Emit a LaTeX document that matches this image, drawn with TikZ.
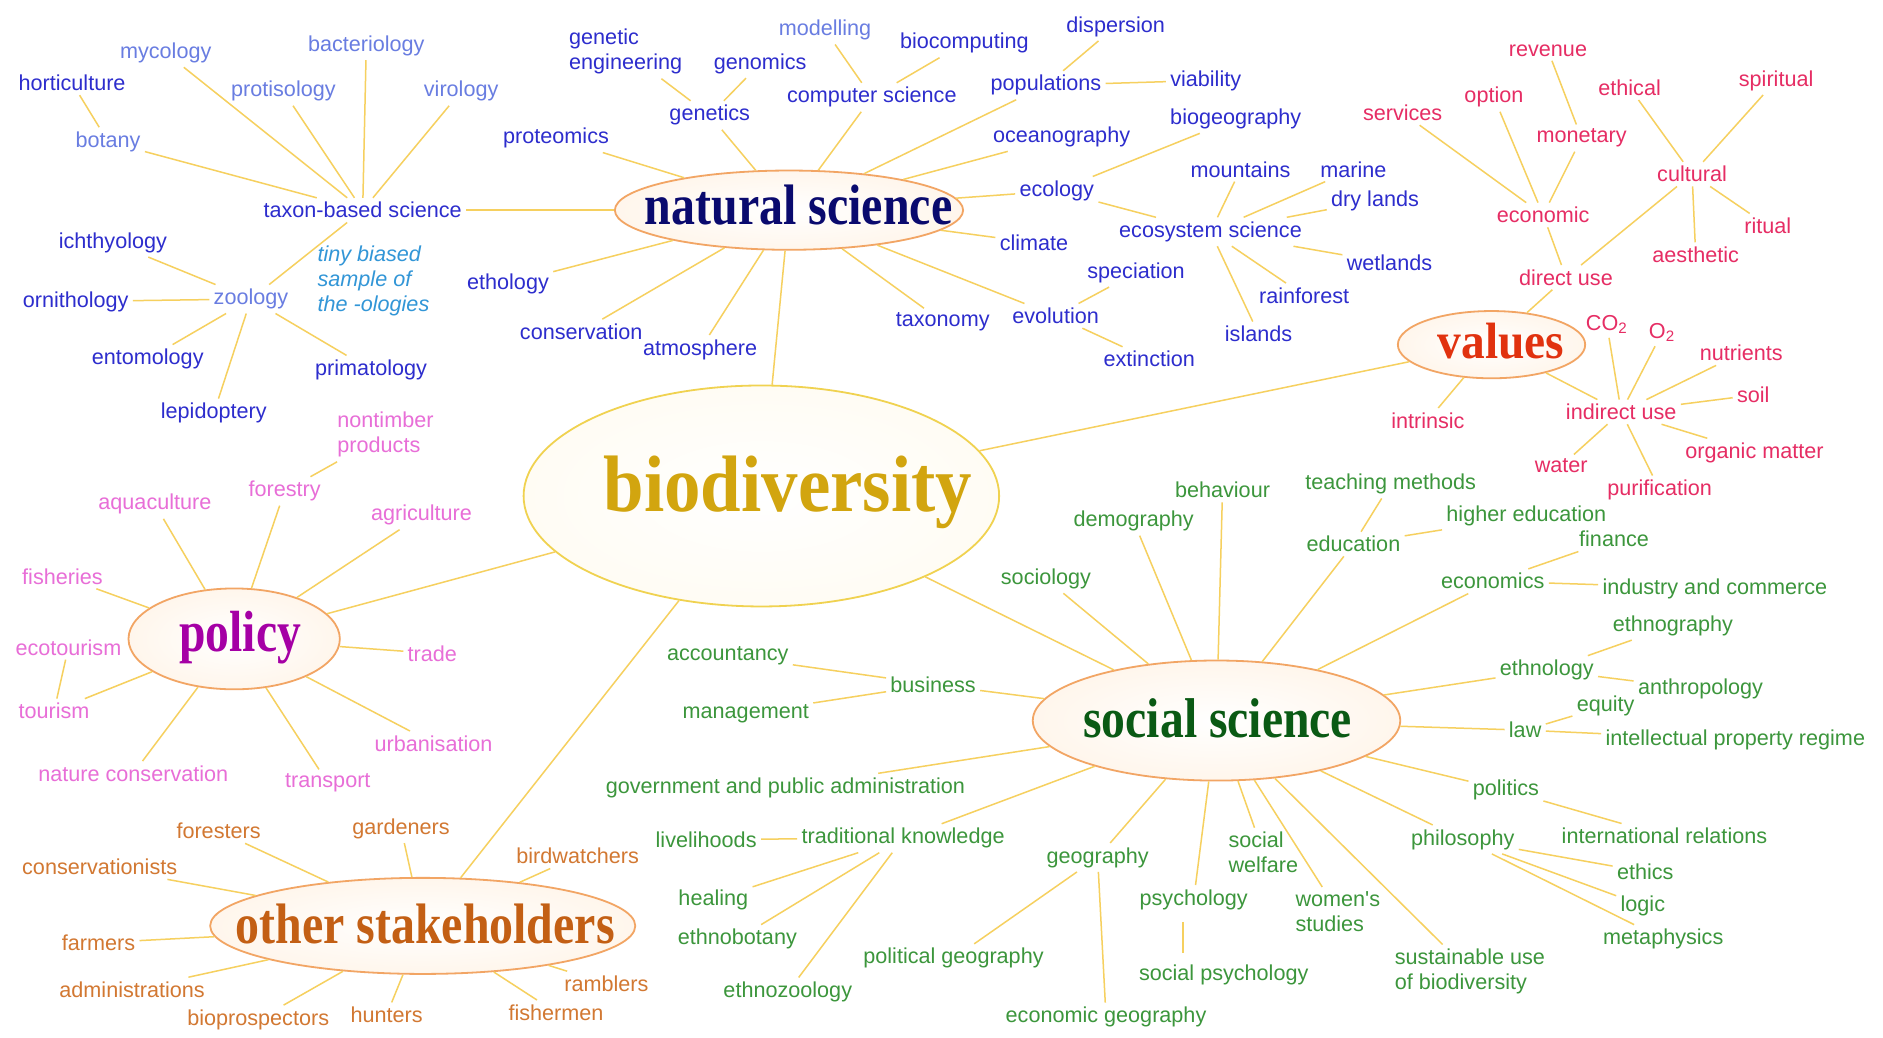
\documentclass[tikz,border=0pt]{standalone}
\usepackage{fontspec}
\usetikzlibrary{shapes.geometric}
\newfontfamily\labfont{Liberation Sans}
\newfontfamily\titfont{Liberation Serif}
\definecolor{nsdark}{RGB}{45,45,205}
\definecolor{nslight}{RGB}{105,125,225}
\definecolor{olog}{RGB}{50,150,215}
\definecolor{valc}{RGB}{230,45,100}
\definecolor{polc}{RGB}{232,110,215}
\definecolor{socc}{RGB}{60,150,60}
\definecolor{othc}{RGB}{210,120,50}
\definecolor{conc}{RGB}{246,208,95}
\definecolor{elline}{RGB}{242,165,100}
\definecolor{bioline}{RGB}{240,210,80}
\definecolor{ellfill}{RGB}{255,246,236}
\definecolor{biofill}{RGB}{255,252,244}
\definecolor{biotext}{RGB}{210,165,15}
\definecolor{nstext}{RGB}{10,10,110}
\definecolor{valtext}{RGB}{225,50,15}
\definecolor{poltext}{RGB}{165,0,165}
\definecolor{soctext}{RGB}{10,90,20}
\definecolor{othtext}{RGB}{195,95,20}
\newcommand{\ttl}[3]{{\titfont\bfseries\fontsize{#1}{#1}\selectfont\scalebox{#2}[1]{#3}}}
\begin{document}
\begin{tikzpicture}[x=0.6pt,y=-0.6pt,
  lab/.style={font={\labfont\fontsize{10.8}{12.6}\selectfont}, inner sep=2pt},
  ns/.style={lab, text=nsdark},
  nsl/.style={lab, text=nslight},
  val/.style={lab, text=valc},
  pol/.style={lab, text=polc},
  soc/.style={lab, text=socc},
  oth/.style={lab, text=othc},
  ell/.style={ellipse, draw=elline, line width=0.9pt, inner sep=0pt, inner color=white, outer color=ellfill},
  con/.style={draw=conc, line width=0.75pt}]
\fill[white] (0,0) rectangle (1568,864);
\useasboundingbox (0,0) rectangle (1568,864);

% hubs
\node[ell, draw=bioline, outer color=biofill, minimum width=237.6pt, minimum height=110.4pt] (bio) at (634,413) {};
\node[ell, minimum width=174pt, minimum height=39.6pt] (nat) at (657,175) {};
\node[ell, minimum width=93.6pt, minimum height=33.6pt] (val) at (1242,287) {};
\node[ell, minimum width=105.6pt, minimum height=50.4pt] (pol) at (195,532) {};
\node[ell, minimum width=183.6pt, minimum height=60pt] (soc) at (1013,600) {};
\node[ell, minimum width=212.4pt, minimum height=48pt] (oth) at (352,771) {};

% natural science
\node[ns] (horti) at (60,69) {horticulture};
\node[nsl] (myco) at (138,44) {mycology};
\node[nsl] (bact) at (305,38) {bacteriology};
\node[nsl] (prot) at (236,76) {protisology};
\node[nsl] (viro) at (384,76) {virology};
\node[nsl] (bota) at (90,118) {botany};
\node[ns] (taxon) at (302,175) {taxon-based science};
\node[ns] (ichth) at (94,202) {ichthyology};
\node[ns] (ornith) at (63,251) {ornithology};
\node[nsl] (zool) at (209,249) {zoology};
\node[ns] (entom) at (123,299) {entomology};
\node[ns] (lepid) at (178,344) {lepidoptery};
\node[ns] (primat) at (309,308) {primatology};
\node[lab, text=olog, align=left, font={\labfont\itshape\fontsize{10.8}{12.6}\selectfont}] (ologies) at (311,234) {tiny biased\\sample of\\the -ologies};
\node[ns] (proteo) at (463,115) {proteomics};
\node[ns, align=left] (geneng) at (521,43) {genetic\\engineering};
\node[ns] (genom) at (633,53) {genomics};
\node[nsl] (model) at (687,25) {modelling};
\node[ns] (biocomp) at (803,36) {biocomputing};
\node[ns] (disp) at (929,22) {dispersion};
\node[ns] (genet) at (591,96) {genetics};
\node[ns] (compsci) at (726,81) {computer science};
\node[ns] (popul) at (871,71) {populations};
\node[ns] (viab) at (1004,67) {viability};
\node[ns] (ocean) at (884,114) {oceanography};
\node[ns] (biogeo) at (1029,99) {biogeography};
\node[ns] (ecol) at (880,159) {ecology};
\node[ns] (mount) at (1033,141) {mountains};
\node[ns] (marine) at (1127,141) {marine};
\node[ns] (dry) at (1145,167) {dry lands};
\node[ns] (ecosys) at (1008,193) {ecosystem science};
\node[ns] (wet) at (1157,219) {wetlands};
\node[ns] (rain) at (1086,246) {rainforest};
\node[ns] (isl) at (1048,278) {islands};
\node[ns] (clim) at (861,202) {climate};
\node[ns] (spec) at (946,227) {speciation};
\node[ns] (evol) at (879,263) {evolution};
\node[ns] (extin) at (957,299) {extinction};
\node[ns] (taxo) at (785,268) {taxonomy};
\node[ns] (atmos) at (583,291) {atmosphere};
\node[ns] (conserv) at (484,276) {conservation};
\node[ns] (etho) at (423,236) {ethology};

% values
\node[val] (reven) at (1289,42) {revenue};
\node[val] (ethic) at (1357,73) {ethical};
\node[val] (spirit) at (1479,67) {spiritual};
\node[val] (option) at (1244,81) {option};
\node[val] (serv) at (1168,94) {services};
\node[val] (monet) at (1317,115) {monetary};
\node[val] (cult) at (1409,145) {cultural};
\node[val] (econ) at (1285,179) {economic};
\node[val] (ritual) at (1472,188) {ritual};
\node[val] (aesth) at (1412,212) {aesthetic};
\node[val] (direct) at (1304,231) {direct use};
\node[val] (co2) at (1338,270) {CO\textsubscript{2}};
\node[val] (o2) at (1384,277) {O\textsubscript{2}};
\node[val] (nutr) at (1450,294) {nutrients};
\node[val] (soil) at (1460,329) {soil};
\node[val] (intr) at (1189,350) {intrinsic};
\node[val] (indir) at (1350,343) {indirect use};
\node[val] (water) at (1300,388) {water};
\node[val] (organ) at (1461,377) {organic matter};
\node[val] (purif) at (1382,408) {purification};

% policy
\node[pol, align=left] (nontimb) at (321,362) {nontimber\\products};
\node[pol] (forest) at (237,409) {forestry};
\node[pol] (aqua) at (129,420) {aquaculture};
\node[pol] (agri) at (351,429) {agriculture};
\node[pol] (fish) at (52,480) {fisheries};
\node[pol] (ecotour) at (57,539) {ecotourism};
\node[pol] (trade) at (360,544) {trade};
\node[pol] (tour) at (45,592) {tourism};
\node[pol] (urban) at (361,619) {urbanisation};
\node[pol] (natcons) at (111,644) {nature conservation};
\node[pol] (transp) at (273,652) {transport};

% social science
\node[soc] (behav) at (1018,408) {behaviour};
\node[soc] (teach) at (1158,403) {teaching methods};
\node[soc] (demog) at (944,434) {demography};
\node[soc] (higher) at (1271,430) {higher education};
\node[soc] (educ) at (1127,453) {education};
\node[soc] (finan) at (1344,449) {finance};
\node[soc] (socio) at (871,482) {sociology};
\node[soc] (econs) at (1243,484) {economics};
\node[soc] (indus) at (1428,490) {industry and commerce};
\node[soc] (ethnog) at (1393,521) {ethnography};
\node[soc] (account) at (606,546) {accountancy};
\node[soc] (busin) at (777,570) {business};
\node[soc] (ethnol) at (1288,558) {ethnology};
\node[soc] (anthro) at (1416,574) {anthropology};
\node[soc] (equity) at (1337,588) {equity};
\node[soc] (manag) at (621,594) {management};
\node[soc] (law) at (1270,608) {law};
\node[soc] (ipr) at (1445,616) {intellectual property regime};
\node[soc] (govt) at (654,656) {government and public administration};
\node[soc] (polit) at (1254,658) {politics};
\node[soc] (liveli) at (588,699) {livelihoods};
\node[soc] (trad) at (752,698) {traditional knowledge};
\node[soc] (intrel) at (1386,696) {international relations};
\node[soc] (philo) at (1218,699) {philosophy};
\node[soc] (geog) at (914,714) {geography};
\node[soc, align=left] (welf) at (1052,710) {social\\welfare};
\node[soc] (ethics) at (1370,726) {ethics};
\node[soc] (heal) at (594,749) {healing};
\node[soc] (psych) at (994,749) {psychology};
\node[soc, align=left] (women) at (1114,759) {women's\\studies};
\node[soc] (logic) at (1368,754) {logic};
\node[soc] (ethbot) at (614,782) {ethnobotany};
\node[soc] (metaph) at (1385,782) {metaphysics};
\node[soc] (polgeo) at (794,798) {political geography};
\node[soc, align=left] (sustain) at (1224,809) {sustainable use\\of biodiversity};
\node[soc] (socpsy) at (1019,812) {social psychology};
\node[soc] (ethzoo) at (656,826) {ethnozoology};
\node[soc] (ecogeo) at (921,847) {economic geography};

% other stakeholders
\node[oth] (forstr) at (182,692) {foresters};
\node[oth] (garden) at (334,690) {gardeners};
\node[oth] (consv) at (83,722) {conservationists};
\node[oth] (bird) at (481,713) {birdwatchers};
\node[oth] (farm) at (82,785) {farmers};
\node[oth] (admin) at (110,824) {administrations};
\node[oth] (rambl) at (505,819) {ramblers};
\node[oth] (biopro) at (215,849) {bioprospectors};
\node[oth] (hunt) at (322,845) {hunters};
\node[oth] (fisherm) at (463,843) {fishermen};

% connectors
\foreach \a/\b in {bio/nat, bio/val, bio/pol, bio/soc, bio/oth,
  nat/taxon, nat/proteo, nat/genet, nat/compsci, nat/popul, nat/ocean, nat/ecol, nat/clim, nat/evol, nat/taxo, nat/atmos, nat/conserv, nat/etho,
  taxon/bota, taxon/myco, taxon/prot, taxon/bact, taxon/viro, taxon/zool, bota/horti,
  zool/ichth, zool/ornith, zool/entom, zool/lepid, zool/primat,
  genet/geneng, genet/genom, compsci/model, compsci/biocomp, popul/disp, popul/viab,
  ecol/biogeo, ecol/ecosys, ecosys/mount, ecosys/marine, ecosys/dry, ecosys/wet, ecosys/rain, ecosys/isl,
  evol/spec, evol/extin,
  val/direct, val/intr, val/indir, direct/econ, direct/cult, econ/serv, econ/option, econ/monet, monet/reven,
  cult/ethic, cult/spirit, cult/ritual, cult/aesth,
  indir/co2, indir/o2, indir/nutr, indir/soil, indir/organ, indir/purif, indir/water,
  pol/aqua, pol/forest, pol/agri, pol/fish, pol/trade, pol/tour, pol/urban, pol/natcons, pol/transp, forest/nontimb, ecotour/tour,
  soc/socio, soc/demog, soc/behav, soc/educ, soc/econs, soc/ethnol, soc/law, soc/polit, soc/busin, soc/govt, soc/trad, soc/geog, soc/psych, soc/welf, soc/women, soc/sustain, soc/philo,
  busin/account, busin/manag, trad/liveli, trad/heal, trad/ethbot, trad/ethzoo, geog/polgeo, geog/ecogeo,
  philo/ethics, philo/logic, philo/metaph, polit/intrel, law/equity, law/ipr, ethnol/ethnog, ethnol/anthro, econs/finan, econs/indus, educ/teach, educ/higher,
  oth/forstr, oth/garden, oth/consv, oth/bird, oth/farm, oth/admin, oth/rambl, oth/biopro, oth/hunt, oth/fisherm}
  \draw[con] (\a) -- (\b);
\draw[con] ([xshift=-5.4pt,yshift=-4pt]psych.south) -- ([xshift=-5.4pt,yshift=4pt]psych.south |- socpsy.north);

% titles
\node[text=biotext] (tbio) at (656,410) {\ttl{40}{0.91}{biodiversity}};
\node[text=nstext] (tnat) at (665,171) {\ttl{28.5}{0.84}{natural science}};
\node[text=valtext] (tval) at (1250,284) {\ttl{25.5}{0.93}{values}};
\node[text=poltext] (tpol) at (200,531) {\ttl{29}{0.82}{policy}};
\node[text=soctext] (tsoc) at (1014,598) {\ttl{28}{0.85}{social science}};
\node[text=othtext] (toth) at (354,769) {\ttl{28.5}{0.84}{other stakeholders}};
\end{tikzpicture}
\end{document}
